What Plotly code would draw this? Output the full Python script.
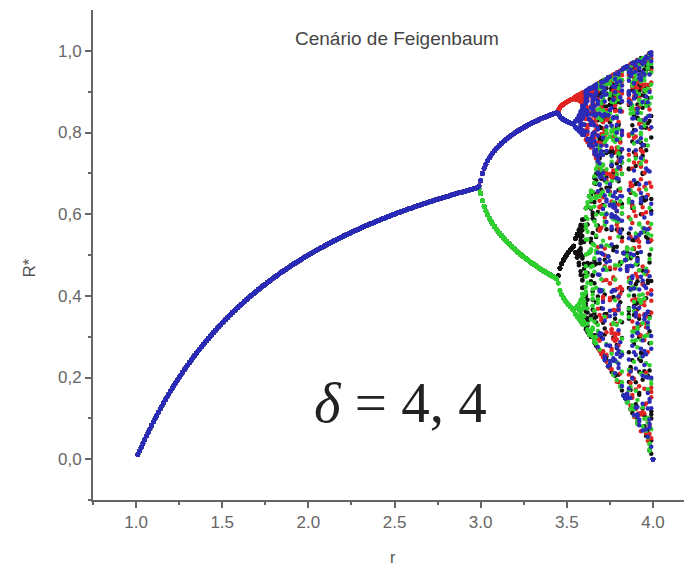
import numpy as np
import plotly.graph_objects as go

# Parameter values r of the logistic map x -> r x (1 - x)
r_values = np.round(np.arange(1.01, 4.0001, 0.01), 2)
x_start = 0.5          # initial condition of every orbit
transient = 200        # iterations discarded before recording
cycles_kept = 12       # recorded points per series and per r

# One series per iterate n, n+1, n+2, n+3 (mod 4)
series_names = ["x(n)", "x(n+1)", "x(n+2)", "x(n+3)"]
series_colors = ["#111111", "#e02424", "#2fcf2f", "#2b2bb8"]

# Axis ticks
x_ticks = [1.0, 1.5, 2.0, 2.5, 3.0, 3.5, 4.0]
x_tick_text = ["1.0", "1.5", "2.0", "2.5", "3.0", "3.5", "4.0"]
x_minor = [0.75, 1.25, 1.75, 2.25, 2.75, 3.25, 3.75]
y_ticks = [0.0, 0.2, 0.4, 0.6, 0.8, 1.0]
y_tick_text = ["0,0", "0,2", "0,4", "0,6", "0,8", "1,0"]
y_minor = [-0.1, 0.1, 0.3, 0.5, 0.7, 0.9]

title_text = "Cenário de Feigenbaum"
delta_text = "<i>δ</i> = 4, 4"


def orbit(r, n_keep):
    x = x_start
    for _ in range(transient):
        x = r * x * (1 - x)
    values = []
    for _ in range(n_keep):
        x = r * x * (1 - x)
        values.append(x)
    return values


n_series = len(series_names)
n_keep = n_series * (cycles_kept + 1)

# phase of the recorded iterates: the first series follows the branch near 0.5
ref = orbit(3.5, n_series)
offset = int(np.argmin([abs(v - 0.5) for v in ref]))

series_x = [[] for _ in range(n_series)]
series_y = [[] for _ in range(n_series)]
for r in r_values:
    vals = orbit(r, n_keep)[offset:offset + n_series * cycles_kept]
    for k in range(n_series):
        pts = vals[k::n_series]
        series_x[k].extend([r] * len(pts))
        series_y[k].extend(pts)

fig = go.Figure()
for k in range(n_series):
    fig.add_trace(go.Scatter(
        x=series_x[k], y=series_y[k], mode="markers", name=series_names[k],
        marker=dict(size=4.5, color=series_colors[k], line=dict(width=0)),
        showlegend=False,
    ))

axis_font = dict(family="Liberation Sans, Arial, sans-serif", size=17, color="#666666")

fig.update_layout(
    width=684, height=569,
    margin=dict(l=93, r=0, t=10, b=69, pad=0),
    paper_bgcolor="white", plot_bgcolor="white",
    xaxis=dict(
        range=[0.75, 4.18], tickvals=x_ticks, ticktext=x_tick_text,
        ticks="outside", ticklen=6, tickwidth=1.5, tickcolor="#666666",
        showline=True, linewidth=2, linecolor="#666666",
        showgrid=False, zeroline=False, tickfont=axis_font,
        minor=dict(tickvals=x_minor, ticks="outside", ticklen=3, tickcolor="#666666"),
    ),
    yaxis=dict(
        range=[-0.1, 1.1], tickvals=y_ticks, ticktext=y_tick_text,
        ticks="outside", ticklen=6, tickwidth=1.5, tickcolor="#666666",
        showline=True, linewidth=2, linecolor="#666666",
        showgrid=False, zeroline=False, tickfont=axis_font,
        minor=dict(tickvals=y_minor, ticks="outside", ticklen=3, tickcolor="#666666"),
    ),
    annotations=[
        dict(text=title_text, xref="paper", yref="paper", x=0.514, y=0.941,
             showarrow=False, xanchor="center", yanchor="middle",
             font=dict(family="Liberation Sans, Arial, sans-serif", size=19, color="#444444")),
        dict(text="R*", xref="paper", yref="paper", x=-0.108, y=0.473,
             showarrow=False, textangle=-90, xanchor="center", yanchor="middle",
             font=dict(family="Liberation Sans, Arial, sans-serif", size=17, color="#555555")),
        dict(text="r", xref="paper", yref="paper", x=0.508, y=-0.118,
             showarrow=False, xanchor="center", yanchor="middle",
             font=dict(family="Liberation Sans, Arial, sans-serif", size=16, color="#555555")),
        dict(text=delta_text, xref="paper", yref="paper", x=0.521, y=0.2,
             showarrow=False, xanchor="center", yanchor="middle",
             font=dict(family="Liberation Serif, Times New Roman, serif", size=57, color="#222222")),
    ],
)

fig.write_html("out.html")
